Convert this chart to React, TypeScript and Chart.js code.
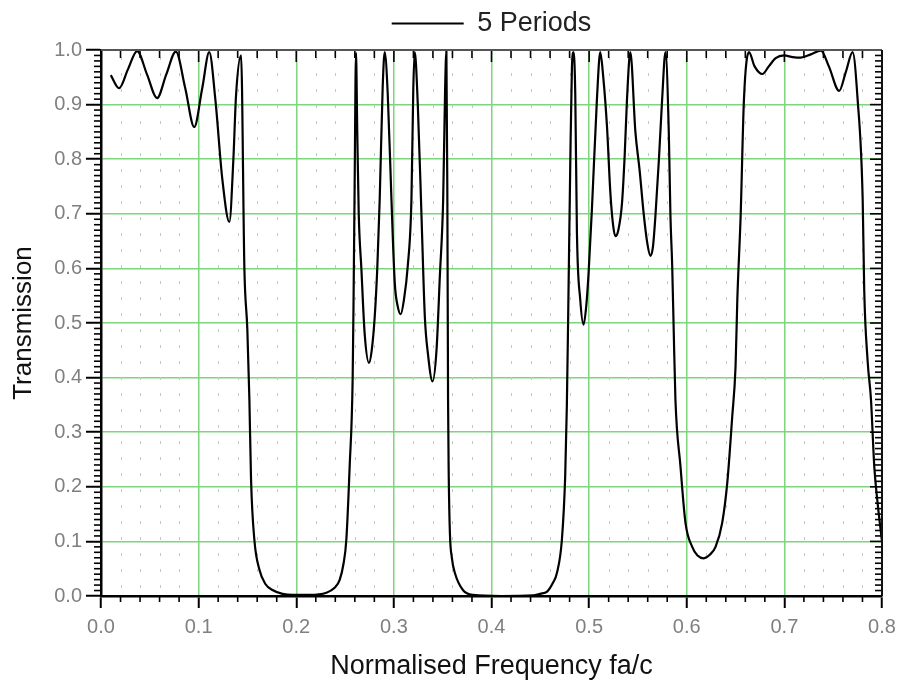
import React, { useEffect, useRef } from "react";
import { Chart, registerables } from "chart.js";

Chart.register(...registerables);

// ---- data ----
const seriesLabel = "5 Periods";
const xTitle = "Normalised Frequency fa/c";
const yTitle = "Transmission";

const freq = [
  0.010, 0.0185, 0.0277, 0.037, 0.0472, 0.0575, 0.0668, 0.0767, 0.0863, 0.0955,
  0.1037, 0.1109, 0.1171, 0.1243, 0.1315, 0.1356, 0.1383, 0.1435, 0.1469, 0.1499,
  0.152, 0.1537, 0.1571, 0.1623, 0.1684, 0.1756, 0.1859, 0.1962, 0.2136, 0.2308,
  0.2393, 0.2444, 0.2485, 0.2513, 0.2547, 0.2578, 0.2588, 0.2598, 0.2612, 0.2625,
  0.264, 0.2667, 0.2701, 0.2745, 0.2773, 0.2804, 0.283, 0.2855, 0.2885, 0.2906,
  0.2937, 0.2975, 0.3009, 0.304, 0.307, 0.3101, 0.3142, 0.318, 0.3199, 0.3214,
  0.3245, 0.3283, 0.3317, 0.3348, 0.3396, 0.3437, 0.3471, 0.3505, 0.3525, 0.3538,
  0.3548, 0.3555, 0.3562, 0.3574, 0.3594, 0.3625, 0.3707, 0.381, 0.41, 0.4426,
  0.4498, 0.457, 0.4632, 0.467, 0.4721, 0.4755, 0.4772, 0.4786, 0.4806, 0.4824,
  0.484, 0.4858, 0.4875, 0.4909, 0.4943, 0.497, 0.4994, 0.5029, 0.508, 0.5114,
  0.5145, 0.5183, 0.5217, 0.5245, 0.5268, 0.5299, 0.5337, 0.5365, 0.5388, 0.5422,
  0.5474, 0.5517, 0.5559, 0.5597, 0.5628, 0.5654, 0.5679, 0.5715, 0.5748, 0.5782,
  0.5816, 0.5833, 0.5851, 0.5867, 0.5884, 0.5936, 0.5987, 0.6056, 0.611, 0.6175,
  0.6233, 0.6295, 0.6363, 0.6415, 0.6466, 0.65, 0.6518, 0.6552, 0.6586, 0.6637,
  0.6695, 0.6775, 0.684, 0.6911, 0.6997, 0.7086, 0.7168, 0.7271, 0.7374, 0.7456,
  0.7561, 0.763, 0.7699, 0.775, 0.7802, 0.7818, 0.7853, 0.7887, 0.7921, 0.7955,
  0.799, 0.8,
];

const transmission = [
  0.954, 0.930, 0.965, 0.998, 0.955, 0.912, 0.955, 0.997, 0.93, 0.859,
  0.93, 0.996, 0.91, 0.763, 0.685, 0.80, 0.916, 0.99, 0.598, 0.488,
  0.36, 0.213, 0.103, 0.048, 0.022, 0.011, 0.004, 0.002, 0.002, 0.006,
  0.015, 0.029, 0.06, 0.103, 0.237, 0.40, 0.56, 0.75, 0.995, 0.85,
  0.70, 0.60, 0.48, 0.427, 0.45, 0.512, 0.60, 0.727, 0.93, 0.996,
  0.92, 0.727, 0.574, 0.53, 0.516, 0.54, 0.604, 0.727, 0.93, 0.996,
  0.90, 0.696, 0.512, 0.445, 0.393, 0.451, 0.586, 0.727, 0.93, 0.998,
  0.72, 0.36, 0.22, 0.115, 0.07, 0.042, 0.011, 0.002, 0.0, 0.001,
  0.004, 0.008, 0.025, 0.042, 0.103, 0.22, 0.35, 0.52, 0.78, 0.97,
  0.996, 0.92, 0.666, 0.543, 0.497, 0.53, 0.59, 0.71, 0.91, 0.996,
  0.95, 0.86, 0.74, 0.68, 0.659, 0.67, 0.72, 0.81, 0.91, 0.996,
  0.85, 0.78, 0.70, 0.645, 0.623, 0.64, 0.696, 0.80, 0.91, 0.996,
  0.85, 0.696, 0.604, 0.482, 0.36, 0.237, 0.134, 0.09, 0.074, 0.069,
  0.075, 0.09, 0.134, 0.207, 0.329, 0.421, 0.543, 0.696, 0.91, 0.996,
  0.97, 0.956, 0.97, 0.985, 0.99, 0.987, 0.986, 0.992, 0.999, 0.97,
  0.925, 0.96, 0.996, 0.91, 0.727, 0.56, 0.43, 0.36, 0.237, 0.17,
  0.115, 0.10,
];

const FONT = "'Liberation Sans', Arial, sans-serif";
const GRID_GREEN = "#7dd67d";
const MINOR_DOT = "#b0d6b0";

const decorPlugin = {
  id: "decor",
  beforeDatasetsDraw(chart: any) {
    const { ctx, chartArea: a, scales } = chart;
    const x = scales.x;
    ctx.save();
    ctx.strokeStyle = MINOR_DOT;
    ctx.lineWidth = 1;
    ctx.setLineDash([3, 13]);
    for (let i = 1; i < 40; i++) {
      if (i % 5 === 0) continue;
      const px = Math.round(x.getPixelForValue(i * 0.02)) + 0.5;
      ctx.beginPath();
      ctx.moveTo(px, a.bottom - 8);
      ctx.lineTo(px, a.top);
      ctx.stroke();
    }
    ctx.restore();
  },
  afterDraw(chart: any) {
    const { ctx, chartArea: a, scales } = chart;
    const x = scales.x;
    const y = scales.y;
    ctx.save();
    ctx.strokeStyle = "#000";
    ctx.lineWidth = 1.6;
    for (let i = 0; i <= 40; i++) {
      const px = x.getPixelForValue(i * 0.02);
      const major = i % 5 === 0;
      if (!major) {
        ctx.beginPath();
        ctx.moveTo(px, a.bottom);
        ctx.lineTo(px, a.bottom + 6);
        ctx.stroke();
      }
      ctx.beginPath();
      ctx.moveTo(px, a.top);
      ctx.lineTo(px, a.top + (major ? 12 : 8));
      ctx.stroke();
    }
    for (let i = 0; i <= 100; i++) {
      const py = y.getPixelForValue(i * 0.01);
      const major = i % 10 === 0;
      if (!major) {
        ctx.beginPath();
        ctx.moveTo(a.left - 7, py);
        ctx.lineTo(a.left, py);
        ctx.stroke();
      }
      ctx.beginPath();
      ctx.moveTo(a.right, py);
      ctx.lineTo(a.right - (major ? 12 : 7), py);
      ctx.stroke();
    }
    ctx.lineWidth = 2;
    ctx.strokeStyle = "#555";
    ctx.beginPath();
    ctx.moveTo(a.left, a.top);
    ctx.lineTo(a.right, a.top);
    ctx.stroke();
    ctx.strokeStyle = "#111";
    ctx.beginPath();
    ctx.moveTo(a.right, a.top);
    ctx.lineTo(a.right, a.bottom);
    ctx.stroke();
    ctx.restore();
  },
};

export default function App() {
  const ref = useRef<HTMLCanvasElement | null>(null);

  useEffect(() => {
    if (!ref.current) return;
    const chart = new Chart(ref.current, {
      type: "line",
      data: {
        datasets: [
          {
            label: seriesLabel,
            data: freq.map((f, i) => ({ x: f, y: transmission[i] })),
            borderColor: "#000",
            backgroundColor: "#000",
            borderWidth: 2.2,
            pointRadius: 0,
            pointStyle: "line",
            cubicInterpolationMode: "monotone",
            fill: false,
          },
        ],
      },
      options: {
        responsive: false,
        animation: false,
        devicePixelRatio: 1,
        layout: { padding: { top: 0, left: 0, right: 17, bottom: 0 } },
        plugins: {
          tooltip: { enabled: false },
          legend: {
            display: true,
            position: "top",
            fullSize: false,
            labels: {
              usePointStyle: true,
              pointStyleWidth: 72,
              padding: 10,
              color: "#222",
              font: { family: FONT, size: 27 },
            },
          },
        },
        scales: {
          x: {
            type: "linear",
            position: "bottom",
            min: 0,
            max: 0.8,
            afterFit: (s: any) => {
              s.height = 87;
              s.paddingRight = 0;
              s.paddingLeft = 0;
            },
            ticks: {
              stepSize: 0.1,
              padding: 7,
              color: "#808080",
              font: { family: FONT, size: 20 },
              callback: (v: any) => Number(v).toFixed(1),
              maxRotation: 0,
            },
            grid: {
              color: GRID_GREEN,
              lineWidth: 1.5,
              drawTicks: true,
              tickLength: 12,
              tickColor: "#000",
              tickWidth: 2,
            },
            border: { display: true, color: "#000", width: 2.5 },
            title: {
              display: true,
              text: xTitle,
              color: "#111",
              font: { family: FONT, size: 27 },
              padding: { top: 0, bottom: 0 },
            },
          },
          x2: {
            type: "linear",
            position: "top",
            min: 0,
            max: 0.8,
            display: true,
            afterFit: (s: any) => {
              s.height = 3;
              s.paddingRight = 0;
              s.paddingLeft = 0;
            },
            ticks: { display: false },
            grid: { display: false, drawTicks: false },
            border: { display: false },
          },
          y: {
            type: "linear",
            position: "left",
            min: 0,
            max: 1,
            afterFit: (s: any) => {
              s.width = 101;
            },
            ticks: {
              stepSize: 0.1,
              padding: 4,
              color: "#808080",
              font: { family: FONT, size: 20 },
              callback: (v: any) => Number(v).toFixed(1),
            },
            grid: {
              color: GRID_GREEN,
              lineWidth: 1.5,
              drawTicks: true,
              tickLength: 15,
              tickColor: "#000",
              tickWidth: 2,
            },
            border: { display: true, color: "#000", width: 2.5 },
            title: {
              display: true,
              text: yTitle,
              color: "#111",
              font: { family: FONT, size: 26 },
              padding: { top: 8, bottom: 0 },
            },
          },
        },
      },
      plugins: [decorPlugin],
    });
    return () => chart.destroy();
  }, []);

  return (
    <canvas
      ref={ref}
      width={899}
      height={683}
      style={{ position: "absolute", left: 0, top: 0, display: "block" }}
    />
  );
}
